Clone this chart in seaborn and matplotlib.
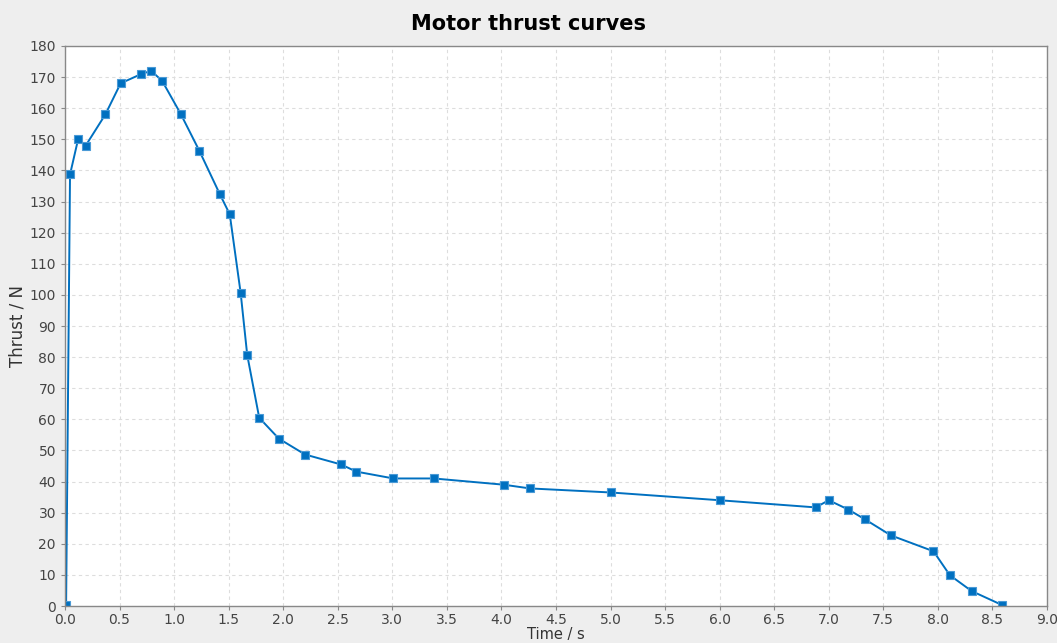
import matplotlib
matplotlib.use("Agg")
import matplotlib.pyplot as plt
import seaborn as sns
import pandas as pd

# Thrust curve values
time_s = [0.01, 0.046, 0.12, 0.19, 0.37, 0.51, 0.70, 0.79, 0.89, 1.06,
          1.23, 1.42, 1.51, 1.61, 1.67, 1.78, 1.96, 2.20, 2.53, 2.67,
          3.01, 3.38, 4.02, 4.26, 5.00, 6.00, 6.88, 7.00, 7.18, 7.33,
          7.57, 7.96, 8.11, 8.31, 8.59]
thrust_n = [0.3, 138.7, 150.0, 148.0, 158.0, 168.0, 171.0, 172.0, 168.8, 158.2,
            146.4, 132.3, 125.9, 100.6, 80.7, 60.5, 53.8, 48.7, 45.5, 43.2,
            41.0, 41.0, 39.0, 37.8, 36.5, 34.0, 31.7, 34.0, 31.0, 27.9,
            22.7, 17.6, 9.9, 4.8, 0.3]

df = pd.DataFrame({"Time": time_s, "Thrust": thrust_n})

sns.set_style("white")
plt.rcParams['font.family'] = ['DejaVu Sans']

fig = plt.figure(figsize=(10.57, 6.43), dpi=100, facecolor="#eeeeee")
ax = fig.add_axes([0.0615, 0.0575, 0.929, 0.871])
ax.set_facecolor("white")

sns.lineplot(data=df, x="Time", y="Thrust", ax=ax, color="#0070c0",
             marker="s", markersize=6, markeredgecolor="#4a9ad6",
             markeredgewidth=0.8, linewidth=1.4, sort=False)

ax.set_xlim(0, 9.0)
ax.set_ylim(0, 180)
ax.set_xticks([i * 0.5 for i in range(19)])
ax.set_xticklabels([f"{i * 0.5:.1f}" for i in range(19)])
ax.set_yticks(range(0, 181, 10))
ax.grid(True, color="#dddddd", linestyle=(0, (3, 3)), linewidth=0.8)
for s in ax.spines.values():
    s.set_color("#888888")
    s.set_linewidth(1.0)
ax.tick_params(axis="both", labelsize=10, colors="#444444", length=3,
               direction="out", bottom=True, left=True, color="#888888")
ax.tick_params(axis="x", pad=2)

ax.set_xlabel("Time / s", fontsize=10.5, color="#333333", labelpad=0)
ax.set_ylabel("Thrust / N", fontsize=12, color="#333333", labelpad=2)
fig.text(0.5, 0.963, "Motor thrust curves", ha="center", va="center",
         fontsize=15, fontweight="heavy", color="black")

fig.savefig("out.png", dpi=100, facecolor=fig.get_facecolor())
